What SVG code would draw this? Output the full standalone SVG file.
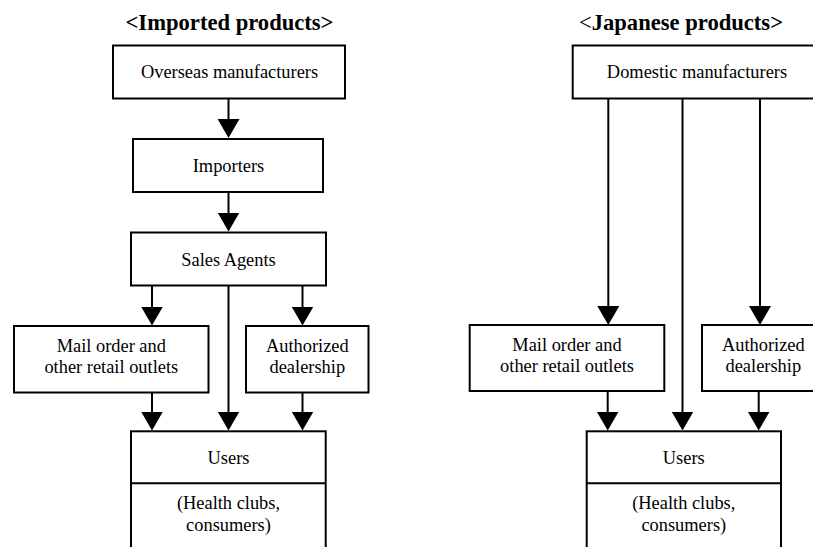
<svg xmlns="http://www.w3.org/2000/svg" width="813" height="547" viewBox="0 0 813 547">
<style>
text{font-family:"Liberation Serif","Times New Roman",serif;font-size:18.4px;fill:#000;text-anchor:middle}
.title{font-size:22.6px;font-weight:bold}
.n{font-weight:normal}
rect{fill:#fff;stroke:#000;stroke-width:2}
.div{stroke:#000;stroke-width:2}
.c line{stroke:#000;stroke-width:2;marker-end:url(#ah)}
</style>
<defs>
<marker id="ah" markerUnits="userSpaceOnUse" viewBox="0 -11 20 22" markerWidth="20" markerHeight="22" refX="14" refY="0" orient="auto">
<path d="M0,-11 L19,0 L0,11 Z" fill="#000"/>
</marker>
</defs>
<rect x="-2" y="-2" width="820" height="560" style="stroke:none"/>

<g id="title-imported"><text class="title" x="229.5" y="30">&lt;Imported products&gt;</text></g>
<g id="title-japanese"><text class="title" x="681" y="30"><tspan class="n">&lt;</tspan>Japanese products&gt;</text></g>

<g class="c" id="connectors">
<line x1="228.5" y1="98.5" x2="228.5" y2="133"/>
<line x1="228.5" y1="192" x2="228.5" y2="226.5"/>
<line x1="152" y1="285.5" x2="152" y2="320.5"/>
<line x1="302.5" y1="285.5" x2="302.5" y2="320.5"/>
<line x1="228.5" y1="285.5" x2="228.5" y2="425.5"/>
<line x1="152" y1="392.5" x2="152" y2="425.5"/>
<line x1="302.5" y1="392.5" x2="302.5" y2="425.5"/>
<line x1="608.3" y1="98.5" x2="608.3" y2="320"/>
<line x1="682.5" y1="98.5" x2="682.5" y2="425.5"/>
<line x1="760" y1="98.5" x2="760" y2="320"/>
<line x1="607.7" y1="391" x2="607.7" y2="425.5"/>
<line x1="758.7" y1="391" x2="758.7" y2="425.5"/>
</g>

<g id="overseas"><rect x="113" y="45.5" width="232" height="53"/><text x="229.5" y="78">Overseas manufacturers</text></g>
<g id="importers"><rect x="133" y="139" width="190" height="53"/><text x="228.5" y="172">Importers</text></g>
<g id="sales-agents"><rect x="131" y="232.5" width="195" height="53"/><text x="228.5" y="266">Sales Agents</text></g>
<g id="mail-order-l"><rect x="14" y="326" width="194.5" height="66.5"/><text x="111.3" y="351.5">Mail order and</text><text x="111.3" y="373">other retail outlets</text></g>
<g id="authorized-l"><rect x="246" y="326" width="122.5" height="66.5"/><text x="307.3" y="351.5">Authorized</text><text x="307.3" y="373">dealership</text></g>
<g id="users-l"><rect x="131" y="431.3" width="194.7" height="130"/><line class="div" x1="131" y1="483.3" x2="325.7" y2="483.3"/><text x="228.5" y="464">Users</text><text x="228.5" y="509">(Health clubs,</text><text x="228.5" y="530.5">consumers)</text></g>

<g id="domestic"><rect x="572.7" y="45.5" width="260" height="53"/><text x="697" y="78">Domestic manufacturers</text></g>
<g id="mail-order-r"><rect x="469.7" y="325" width="194.6" height="66"/><text x="567" y="350.5">Mail order and</text><text x="567" y="372">other retail outlets</text></g>
<g id="authorized-r"><rect x="702" y="325" width="122.6" height="66"/><text x="763.3" y="350.5">Authorized</text><text x="763.3" y="372">dealership</text></g>
<g id="users-r"><rect x="586.7" y="431.3" width="194.3" height="130"/><line class="div" x1="586.7" y1="483.3" x2="781" y2="483.3"/><text x="683.8" y="464">Users</text><text x="683.8" y="509">(Health clubs,</text><text x="683.8" y="530.5">consumers)</text></g>
</svg>
